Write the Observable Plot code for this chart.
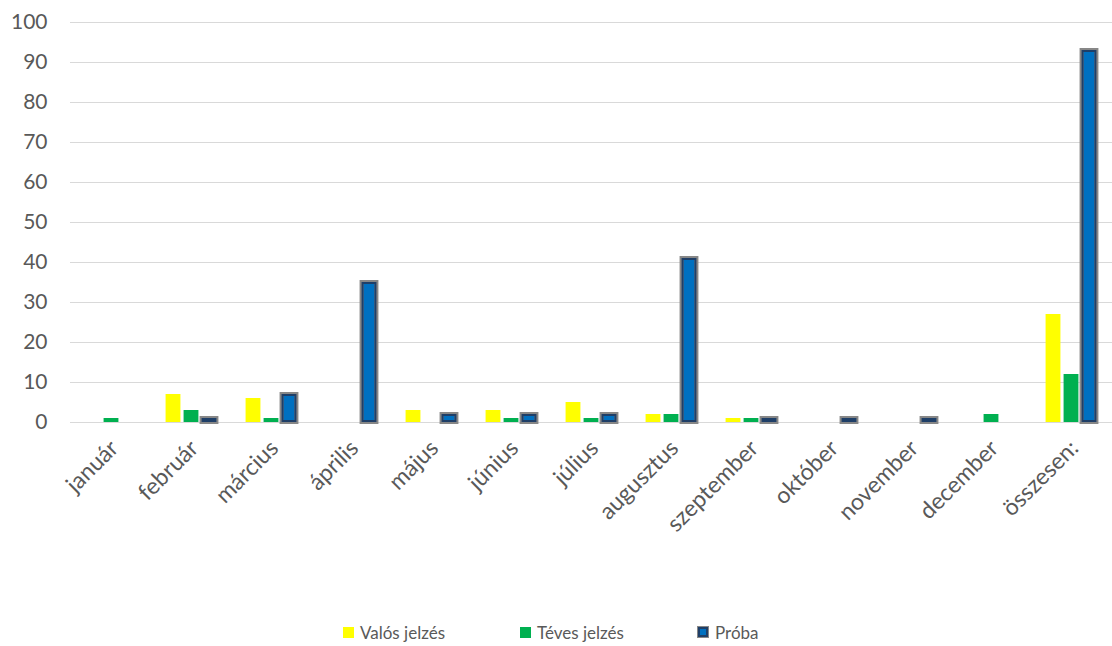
<!DOCTYPE html>
<html>
<head>
<meta charset="utf-8">
<script src="https://cdn.jsdelivr.net/npm/d3@7"></script>
<script src="https://cdn.jsdelivr.net/npm/@observablehq/plot@0.6"></script>
<style>
  html, body { margin: 0; padding: 0; background: #fff; }
  #chart { width: 1112px; height: 646px; position: relative; font-family: Lato, "Open Sans", sans-serif; }
  #legend { position: absolute; left: 0; width: 1112px; top: 621px; height: 22px; font-size: 17px; color: #595959; }
  .item { position: absolute; top: 0; display: flex; align-items: center; height: 22px; }
  .sw { width: 11px; height: 11px; margin-right: 6px; box-sizing: border-box; }
</style>
</head>
<body>
<div id="chart"><div id="plot"></div><div id="legend"></div></div>
<script>
const months = ["január","február","március","április","május","június","július","augusztus","szeptember","október","november","december","összesen:"];
const seriesNames = ["Valós jelzés","Téves jelzés","Próba"];
const valos = [0,7,6,0,3,3,5,2,1,0,0,0,27];
const teves = [1,3,1,0,0,1,1,2,1,0,0,2,12];
const proba = [0,1,7,35,2,2,2,41,1,1,1,0,93];
const yTicks = [0,10,20,30,40,50,60,70,80,90,100];

const rows = months.map((m, i) => ({month: m, valos: valos[i], teves: teves[i], proba: proba[i]}));

const W = 1112, H = 600;
const step = (W - 70) / months.length;
const barW = 15;
const inset = (step - barW) / 2;
const off = 18;

const chart = Plot.plot({
  width: W, height: H,
  marginLeft: 70, marginRight: 0, marginTop: 22, marginBottom: 178,
  style: {color: "#595959", fontFamily: "Lato, 'Open Sans', sans-serif", background: "#fff"},
  x: {domain: months, padding: 0},
  y: {domain: [0, 100]},
  marks: [
    Plot.ruleY(yTicks, {stroke: "#d9d9d9", strokeWidth: 1}),
    Plot.barY(rows.filter(d => d.valos > 0), {x: "month", y: "valos", fill: "#FFFF00", insetLeft: inset, insetRight: inset, dx: -off}),
    Plot.barY(rows.filter(d => d.teves > 0), {x: "month", y: "teves", fill: "#00B050", insetLeft: inset, insetRight: inset}),
    Plot.barY(rows.filter(d => d.proba > 0), {x: "month", y: "proba", fill: "#0070C0", stroke: "#878787", strokeWidth: 4, insetLeft: inset, insetRight: inset, dx: off}),
    Plot.barY(rows.filter(d => d.proba > 0), {x: "month", y: "proba", fill: "none", stroke: "#1F3F68", strokeWidth: 2, insetLeft: inset + 1, insetRight: inset + 1, insetTop: 1, insetBottom: 1, dx: off}),
    Plot.axisY({ticks: yTicks, tickSize: 0, tickPadding: 23, fontSize: 21, label: null}),
    Plot.axisX({tickRotate: -45, tickSize: 0, tickPadding: 22, fontSize: 23, label: null, dx: 3})
  ]
});
document.getElementById("plot").appendChild(chart);

const legend = document.getElementById("legend");
const sw = [
  {bg: "#FFFF00", left: 343},
  {bg: "#00B050", left: 520},
  {bg: "#0070C0", left: 697}
];
seriesNames.forEach((s, i) => {
  const it = document.createElement("div");
  it.className = "item";
  it.style.left = sw[i].left + "px";
  const box = document.createElement("span");
  box.className = "sw";
  box.style.background = sw[i].bg;
  if (i === 2) { box.style.border = "2px solid #1F3F68"; box.style.outline = "1.5px solid #878787"; box.style.width = "10px"; box.style.height = "10px"; box.style.marginLeft = "1px"; box.style.marginRight = "7px"; }
  it.appendChild(box);
  const t = document.createElement("span");
  t.textContent = s;
  it.appendChild(t);
  legend.appendChild(it);
});
</script>
</body>
</html>
